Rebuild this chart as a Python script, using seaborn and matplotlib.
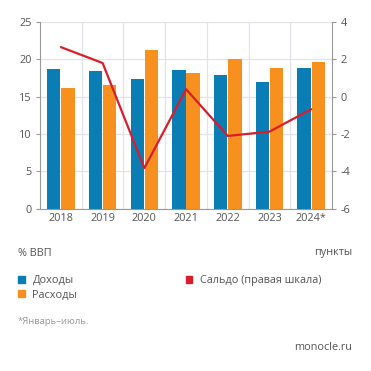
import pandas as pd
import numpy as np
import seaborn as sns
import matplotlib.pyplot as plt
from matplotlib.patches import Patch

years = ['2018', '2019', '2020', '2021', '2022', '2023', '2024*']
dohody = [18.7, 18.45, 17.4, 18.6, 17.9, 16.9, 18.9]
rashody = [16.1, 16.6, 21.2, 18.2, 20.05, 18.8, 19.6]
saldo = [2.65, 1.8, -3.82, 0.4, -2.1, -1.87, -0.67]

blue = '#0a7db5'
orange = '#f7901e'
red = '#d81e2c'
grey = '#555555'

sns.set_style('white')
plt.rcParams['font.family'] = ['Open Sans', 'DejaVu Sans']
plt.rcParams['axes.unicode_minus'] = False

df = pd.DataFrame({
    'year': years * 2,
    'value': dohody + rashody,
    'series': ['Доходы'] * len(years) + ['Расходы'] * len(years),
})

fig = plt.figure(figsize=(3.71, 3.71), dpi=100)
ax = fig.add_axes([0.108, 0.437, 0.787, 0.504])

sns.barplot(data=df, x='year', y='value', hue='series', palette=[blue, orange],
            width=0.68, gap=0.06, saturation=1, linewidth=0, legend=False, ax=ax)
ax.set_xlim(-0.5, len(years) - 0.5)
ax.set_ylim(0, 25)
ax.set_yticks(range(0, 26, 5))
ax.set_xlabel('')
ax.set_ylabel('')
ax.set_xticks(np.arange(0.5, len(years) - 0.5), minor=True)
ax.grid(True, which='minor', axis='x', color='#e2e2e8', lw=0.9)
ax.grid(True, which='major', axis='y', color='#e2e2e8', lw=0.9)
ax.set_axisbelow(True)
ax.tick_params(axis='both', which='major', labelsize=7.8, labelcolor=grey, colors='#999999',
               length=3, width=0.8, pad=3)
ax.tick_params(axis='x', which='major', length=0)
ax.tick_params(axis='x', which='minor', length=0)
for s in ['left', 'bottom', 'right', 'top']:
    ax.spines[s].set_color('#999999')
    ax.spines[s].set_linewidth(0.8)
ax.spines['top'].set_visible(False)

ax2 = ax.twinx()
sns.lineplot(x=np.arange(len(years)), y=saldo, color=red, lw=1.6, ax=ax2)
ax2.set_ylim(-6, 4)
ax2.set_yticks(range(-6, 5, 2))
ax2.tick_params(axis='y', labelsize=7.8, labelcolor=grey, colors='#999999', length=3, width=0.8, pad=3)
for s in ['left', 'bottom', 'right', 'top']:
    ax2.spines[s].set_visible(False)

fig.text(18 / 371, 1 - 253 / 371, '% ВВП', fontsize=7.8, color=grey, va='center')
fig.text(352 / 371, 1 - 253 / 371, 'пункты', fontsize=7.8, color=grey, va='center', ha='right')

handles = [Patch(color=blue, label='Доходы'), Patch(color=orange, label='Расходы'),
           Patch(color=red, label='Сальдо (правая шкала)')]
leg = fig.legend(handles=handles, ncol=2, loc='upper left', bbox_to_anchor=(14 / 371, 1 - 271 / 371),
                 frameon=False, fontsize=7.8, handlelength=0.6, handleheight=0.6, handletextpad=0.7,
                 columnspacing=10.0, labelspacing=0.3, borderaxespad=0)
for t in leg.get_texts():
    t.set_color(grey)

fig.text(18 / 371, 1 - 321 / 371, '*Январь–июль.', fontsize=6.8, color='#999999', va='center')
fig.text(352 / 371, 1 - 348 / 371, 'monocle.ru', fontsize=7.8, color=grey, va='center', ha='right')

fig.savefig('out.png', dpi=100)
